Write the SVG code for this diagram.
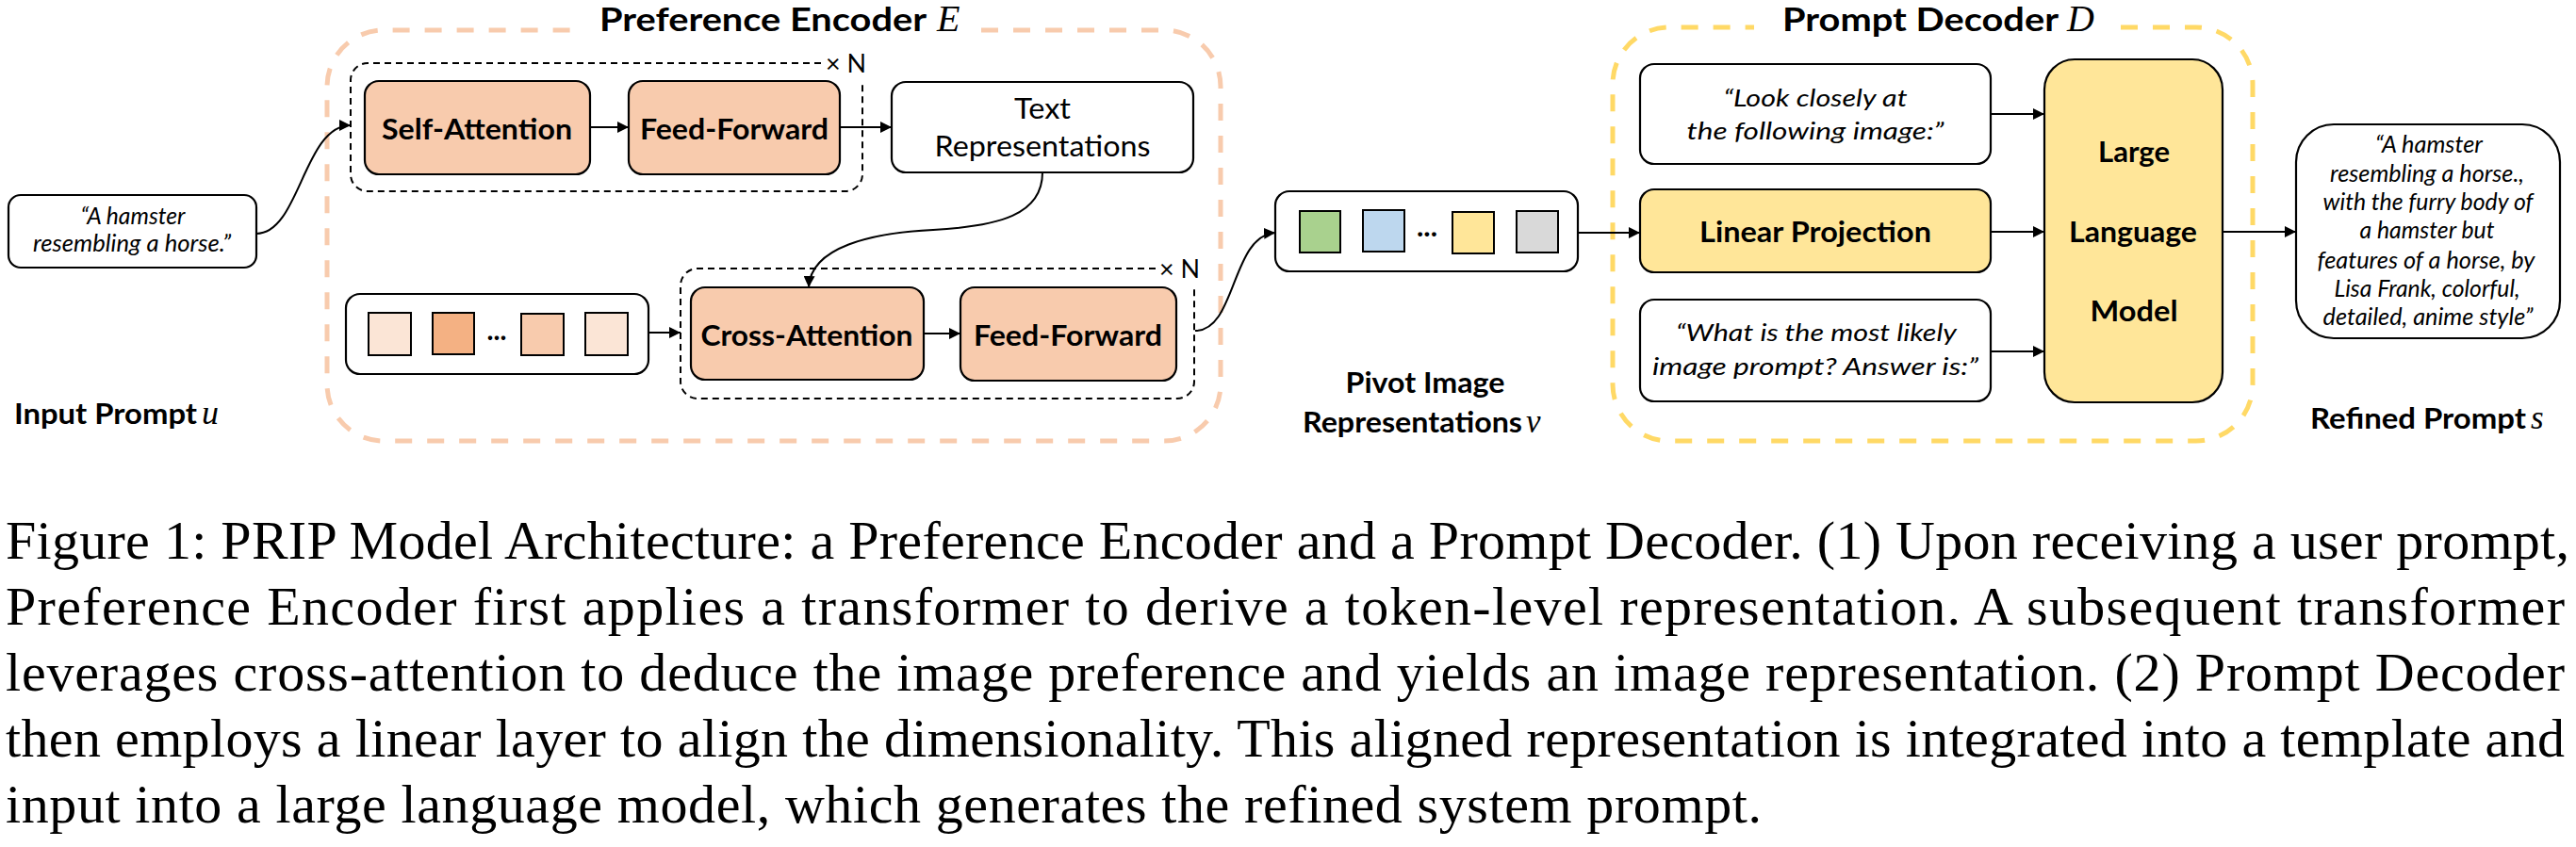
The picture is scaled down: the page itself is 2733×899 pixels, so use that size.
<svg xmlns="http://www.w3.org/2000/svg" width="2733" height="899" viewBox="0 0 2733 899">
<defs>
<style>
.bg{fill:#ffffff}
.node{stroke:#000;stroke-width:2.2}
.white{fill:#ffffff}
.peach{fill:#F8CBAD}
.yellow{fill:#FFE699}
.tok{stroke:#000;stroke-width:2}
.edge{fill:none;stroke:#000;stroke-width:2;marker-end:url(#arrow)}
.group-enc{fill:none;stroke:#F8CBAD;stroke-width:5;stroke-dasharray:18 16}
.group-dec{fill:none;stroke:#FFD966;stroke-width:5;stroke-dasharray:18 16}
.rep{fill:none;stroke:#000;stroke-width:2;stroke-dasharray:7 5}
.b{font-family:Lato,'Liberation Sans',sans-serif;font-weight:bold;font-size:31px;fill:#000}
.r{font-family:Lato,'Liberation Sans',sans-serif;font-size:30px;fill:#000}
.i{font-family:Lato,'Liberation Sans',sans-serif;font-style:italic;font-size:25px;fill:#000}
.t{font-family:Lato,'Liberation Sans',sans-serif;font-weight:bold;font-size:35px;fill:#000}
.m{font-family:'Liberation Serif','DejaVu Serif',serif;font-style:italic;fill:#000}
.n{font-family:Lato,'Liberation Sans',sans-serif;font-size:26px;fill:#000}
.cap{font-family:'Liberation Serif','Times New Roman',serif;font-size:58px;fill:#000}
</style>
<marker id="arrow" viewBox="0 0 12 12" refX="12" refY="6" markerWidth="12" markerHeight="12" markerUnits="userSpaceOnUse" orient="auto">
<path d="M0,0 L12,6 L0,12 z" fill="#000"/>
</marker>
</defs>
<rect class="bg" x="0" y="0" width="2733" height="899"/>

<g id="preference-encoder">
<path class="group-enc" d="M1041,32 L1235,32 A60,60 0 0 1 1295,92 L1295,408 A60,60 0 0 1 1235,468 L407,468 A60,60 0 0 1 347,408 L347,92 A60,60 0 0 1 407,32 L615,32"/>
<text class="t" x="636" y="33" textLength="347" lengthAdjust="spacingAndGlyphs">Preference Encoder</text>
<text class="m" x="994" y="33" font-size="40">E</text>
</g>

<g id="prompt-decoder">
<path class="group-dec" d="M2250,29 L2330,29 A60,60 0 0 1 2390,89 L2390,408 A60,60 0 0 1 2330,468 L1771,468 A60,60 0 0 1 1711,408 L1711,89 A60,60 0 0 1 1771,29 L1861,29"/>
<text class="t" x="1891" y="33" textLength="293" lengthAdjust="spacingAndGlyphs">Prompt Decoder</text>
<text class="m" x="2193" y="33" font-size="40">D</text>
</g>

<g id="input-prompt">
<rect class="node white" x="9" y="207" width="263" height="77" rx="13"/>
<text class="i" x="141" y="238" text-anchor="middle" font-size="23" textLength="111" lengthAdjust="spacingAndGlyphs">“A hamster</text>
<text class="i" x="140" y="267" text-anchor="middle" font-size="23" textLength="210" lengthAdjust="spacingAndGlyphs">resembling a horse.”</text>
</g>
<g id="input-prompt-label">
<text class="b" x="15" y="450" font-size="29" textLength="194" lengthAdjust="spacingAndGlyphs">Input Prompt</text>
<text class="m" x="214" y="450" font-size="36">u</text>
</g>

<g id="self-attention-block">
<path class="rep" d="M871,67 L390,67 A18,18 0 0 0 372,85 L372,185 A18,18 0 0 0 390,203 L897,203 A18,18 0 0 0 915,185 L915,86"/>
<text class="n" x="876" y="77" textLength="43" lengthAdjust="spacingAndGlyphs">× N</text>
</g>
<g id="self-attention">
<rect class="node peach" x="387" y="86" width="239" height="99" rx="15"/>
<text class="b" x="506" y="148" text-anchor="middle" textLength="202" lengthAdjust="spacingAndGlyphs">Self-Attention</text>
</g>
<g id="feed-forward-1">
<rect class="node peach" x="667" y="86" width="224" height="99" rx="15"/>
<text class="b" x="779" y="148" text-anchor="middle" textLength="200" lengthAdjust="spacingAndGlyphs">Feed-Forward</text>
</g>
<g id="text-representations">
<rect class="node white" x="946" y="87" width="320" height="96" rx="15"/>
<text class="r" x="1106" y="126" text-anchor="middle" textLength="60" lengthAdjust="spacingAndGlyphs">Text</text>
<text class="r" x="1106" y="166" text-anchor="middle" textLength="229" lengthAdjust="spacingAndGlyphs">Representations</text>
</g>

<g id="preference-tokens">
<rect class="node white" x="367" y="312" width="321" height="85" rx="15"/>
<rect class="tok" x="391" y="332" width="45" height="45" fill="#FBE5D6"/>
<rect class="tok" x="459" y="332" width="44" height="44" fill="#F4B183"/>
<text class="b" x="527" y="361" text-anchor="middle" font-size="24" textLength="21" lengthAdjust="spacingAndGlyphs">...</text>
<rect class="tok" x="553" y="333" width="45" height="44" fill="#F8CBAD"/>
<rect class="tok" x="621" y="332" width="45" height="45" fill="#FBE5D6"/>
</g>

<g id="cross-attention-block">
<path class="rep" d="M1226,285 L740,285 A18,18 0 0 0 722,303 L722,405 A18,18 0 0 0 740,423 L1249,423 A18,18 0 0 0 1267,405 L1267,303"/>
<text class="n" x="1230" y="295" textLength="43" lengthAdjust="spacingAndGlyphs">× N</text>
</g>
<g id="cross-attention">
<rect class="node peach" x="733" y="305" width="247" height="98" rx="15"/>
<text class="b" x="856" y="367" text-anchor="middle" textLength="225" lengthAdjust="spacingAndGlyphs">Cross-Attention</text>
</g>
<g id="feed-forward-2">
<rect class="node peach" x="1019" y="305" width="229" height="99" rx="15"/>
<text class="b" x="1133" y="367" text-anchor="middle" textLength="200" lengthAdjust="spacingAndGlyphs">Feed-Forward</text>
</g>

<g id="pivot-image-representations">
<rect class="node white" x="1353" y="203" width="321" height="85" rx="15"/>
<rect class="tok" x="1379" y="224" width="43" height="44" fill="#A9D18E"/>
<rect class="tok" x="1446" y="223" width="44" height="44" fill="#BDD7EE"/>
<text class="b" x="1514" y="251" text-anchor="middle" font-size="24" textLength="22" lengthAdjust="spacingAndGlyphs">...</text>
<rect class="tok" x="1541" y="225" width="44" height="44" fill="#FFE699"/>
<rect class="tok" x="1609" y="224" width="44" height="44" fill="#D9D9D9"/>
</g>
<g id="pivot-label">
<text class="b" x="1512" y="417" text-anchor="middle" font-size="29" textLength="169" lengthAdjust="spacingAndGlyphs">Pivot Image</text>
<text class="b" x="1382" y="459" font-size="29" textLength="233" lengthAdjust="spacingAndGlyphs">Representations</text>
<text class="m" x="1619" y="459" font-size="35">v</text>
</g>

<g id="template-look">
<rect class="node white" x="1740" y="68" width="372" height="106" rx="15"/>
<text class="i" x="1926" y="113" text-anchor="middle" textLength="195" lengthAdjust="spacingAndGlyphs">“Look closely at</text>
<text class="i" x="1926" y="148" text-anchor="middle" textLength="273" lengthAdjust="spacingAndGlyphs">the following image:”</text>
</g>
<g id="linear-projection">
<rect class="node yellow" x="1740" y="201" width="372" height="88" rx="15"/>
<text class="b" x="1926" y="257" text-anchor="middle" textLength="246" lengthAdjust="spacingAndGlyphs">Linear Projection</text>
</g>
<g id="template-what">
<rect class="node white" x="1740" y="318" width="372" height="108" rx="15"/>
<text class="i" x="1927" y="362" text-anchor="middle" textLength="298" lengthAdjust="spacingAndGlyphs">“What is the most likely</text>
<text class="i" x="1926" y="398" text-anchor="middle" textLength="346" lengthAdjust="spacingAndGlyphs">image prompt? Answer is:”</text>
</g>
<g id="large-language-model">
<rect class="node yellow" x="2169" y="63" width="189" height="364" rx="32"/>
<text class="b" x="2264" y="172" text-anchor="middle" textLength="76" lengthAdjust="spacingAndGlyphs">Large</text>
<text class="b" x="2263" y="257" text-anchor="middle" textLength="136" lengthAdjust="spacingAndGlyphs">Language</text>
<text class="b" x="2264" y="341" text-anchor="middle" textLength="93" lengthAdjust="spacingAndGlyphs">Model</text>
</g>

<g id="refined-prompt">
<rect class="node white" x="2436" y="132" width="280" height="227" rx="40"/>
<text class="i" x="2577" y="162" text-anchor="middle" font-size="24" textLength="114" lengthAdjust="spacingAndGlyphs">“A hamster</text>
<text class="i" x="2575" y="193" text-anchor="middle" font-size="24" textLength="206" lengthAdjust="spacingAndGlyphs">resembling a horse.,</text>
<text class="i" x="2576" y="223" text-anchor="middle" font-size="24" textLength="223" lengthAdjust="spacingAndGlyphs">with the furry body of</text>
<text class="i" x="2575" y="253" text-anchor="middle" font-size="24" textLength="143" lengthAdjust="spacingAndGlyphs">a hamster but</text>
<text class="i" x="2574" y="285" text-anchor="middle" font-size="24" textLength="231" lengthAdjust="spacingAndGlyphs">features of a horse, by</text>
<text class="i" x="2575" y="315" text-anchor="middle" font-size="24" textLength="197" lengthAdjust="spacingAndGlyphs">Lisa Frank, colorful,</text>
<text class="i" x="2576" y="345" text-anchor="middle" font-size="24" textLength="223" lengthAdjust="spacingAndGlyphs">detailed, anime style”</text>
</g>
<g id="refined-prompt-label">
<text class="b" x="2451" y="455" font-size="29" textLength="229" lengthAdjust="spacingAndGlyphs">Refined Prompt</text>
<text class="m" x="2685" y="455" font-size="35">s</text>
</g>

<g id="connectors">
<path class="edge" d="M272,248 C318,248 322,133 372,133"/>
<path class="edge" d="M626,135 L667,135"/>
<path class="edge" d="M891,135 L946,135"/>
<path class="edge" d="M1106,183 C1106,228 1060,240 990,244 C925,247 860,262 858,305"/>
<path class="edge" d="M688,353 L722,353"/>
<path class="edge" d="M980,354 L1019,354"/>
<path class="edge" d="M1268,351 C1312,351 1306,250 1353,247"/>
<path class="edge" d="M1674,247 L1740,247"/>
<path class="edge" d="M2112,121 L2169,121"/>
<path class="edge" d="M2112,246 L2169,246"/>
<path class="edge" d="M2112,373 L2169,373"/>
<path class="edge" d="M2358,246 L2436,246"/>
</g>

<g id="caption">
<text class="cap" x="6" y="593" textLength="2720" lengthAdjust="spacing">Figure 1: PRIP Model Architecture: a Preference Encoder and a Prompt Decoder. (1) Upon receiving a user prompt,</text>
<text class="cap" x="6" y="663" textLength="2715" lengthAdjust="spacing">Preference Encoder first applies a transformer to derive a token-level representation. A subsequent transformer</text>
<text class="cap" x="6" y="733" textLength="2715" lengthAdjust="spacing">leverages cross-attention to deduce the image preference and yields an image representation. (2) Prompt Decoder</text>
<text class="cap" x="6" y="803" textLength="2715" lengthAdjust="spacing">then employs a linear layer to align the dimensionality. This aligned representation is integrated into a template and</text>
<text class="cap" x="6" y="873" textLength="1863" lengthAdjust="spacing">input into a large language model, which generates the refined system prompt.</text>
</g>
</svg>
